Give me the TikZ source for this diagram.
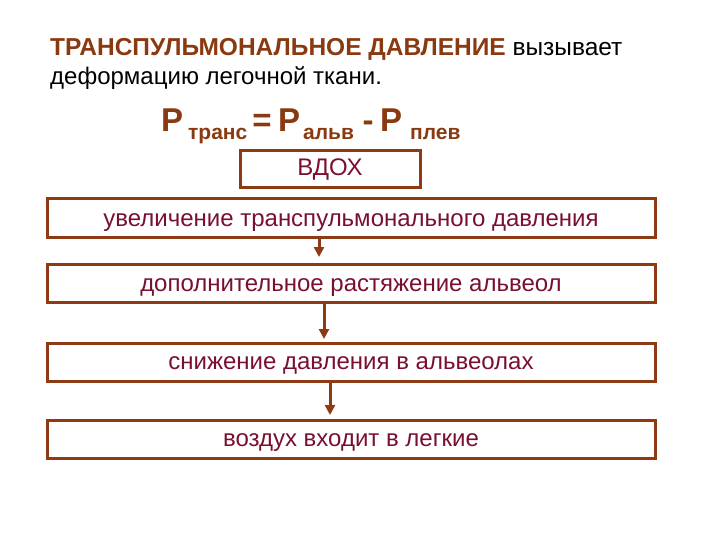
\documentclass[tikz,border=0pt]{standalone}
\usepackage{fontspec}
\setmainfont{Liberation Sans}
\usetikzlibrary{arrows.meta}
\definecolor{boxbrown}{HTML}{8E3A14}
\definecolor{txtmaroon}{HTML}{7A1030}
\definecolor{formbrown}{HTML}{8A3A10}
\tikzset{
  flowbox/.style={draw=boxbrown, line width=3pt, fill=white, inner sep=0pt},
  flowtext/.style={text=txtmaroon, font=\fontsize{24}{28}\selectfont, anchor=base, inner sep=0pt},
  flowarrow/.style={draw=boxbrown, line width=3pt, -{Triangle[length=10pt,width=10pt]}},
  bigp/.style={text=formbrown, font=\bfseries\fontsize{33}{36}\selectfont, inner sep=0pt},
  subp/.style={text=formbrown, font=\bfseries\fontsize{21}{24}\selectfont, anchor=base west, inner sep=0pt},
}
\begin{document}
\begin{tikzpicture}[x=1pt,y=-1pt]
\useasboundingbox (0,0) rectangle (720,540);
% title
\node[anchor=base west, inner sep=0pt] (t1) at (50,56) {\fontsize{24.5}{27}\selectfont\bfseries\color{formbrown}ТРАНСПУЛЬМОНАЛЬНОЕ ДАВЛЕНИЕ\color{black}\mdseries\ вызывает};
\node[anchor=base west, inner sep=0pt] (t2) at (50,85) {\fontsize{24}{28}\selectfont деформацию легочной ткани.};
% formula
\node[bigp, anchor=base west] (p1) at (161,132) {P};
\node[subp] (s1) at (188,140) {транс};
\node[bigp, anchor=base] (eq) at (262,132) {=};
\node[bigp, anchor=base west] (p2) at (278,132) {P};
\node[subp] (s2) at (303,140) {альв};
\node[bigp, anchor=base] (mi) at (368,132) {-};
\node[bigp, anchor=base west] (p3) at (380,132) {P};
\node[subp] (s3) at (410,140) {плев};
% boxes
\draw[flowbox] (240,151) rectangle (420,188);
\node[flowtext] (vdoh) at (330,176) {ВДОХ};
\draw[flowbox] (47,199) rectangle (655,237);
\node[flowtext] (b1) at (351,226) {увеличение транспульмонального давления};
\draw[flowbox] (47,264) rectangle (655,302);
\node[flowtext] (b2) at (351,291) {дополнительное растяжение альвеол};
\draw[flowbox] (47,343) rectangle (655,381);
\node[flowtext] (b3) at (351,369) {снижение давления в альвеолах};
\draw[flowbox] (47,420) rectangle (655,458);
\node[flowtext] (b4) at (351,446) {воздух входит в легкие};
% arrows
\coordinate (a1s) at (319,238.5); \coordinate (a1e) at (319,257);
\coordinate (a2s) at (324,303.5); \coordinate (a2e) at (324,339);
\coordinate (a3s) at (330,382.5); \coordinate (a3e) at (330,415);
\draw[flowarrow] (a1s) -- (a1e);
\draw[flowarrow] (a2s) -- (a2e);
\draw[flowarrow] (a3s) -- (a3e);
\end{tikzpicture}
\end{document}
